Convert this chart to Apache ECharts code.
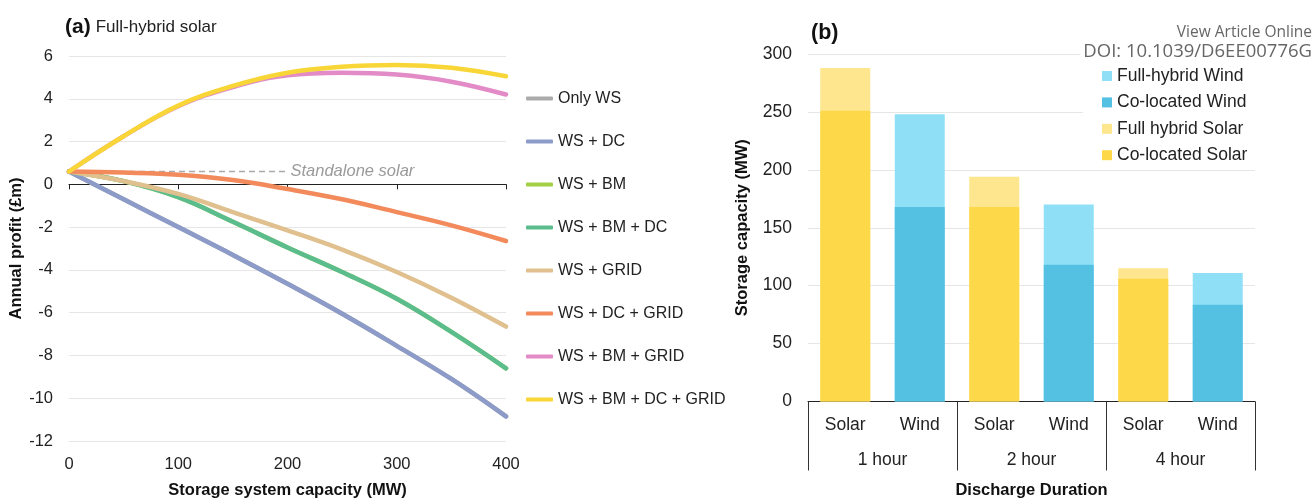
<!DOCTYPE html>
<html>
<head>
<meta charset="utf-8">
<script src="https://cdn.jsdelivr.net/npm/echarts@6/dist/echarts.min.js"></script>
<style>
html,body{margin:0;padding:0;background:#fff;overflow:hidden;}
#chart{width:1315px;height:504px;}
</style>
</head>
<body>
<div id="chart"></div>
<script>
// ---------- Panel (a) data ----------
const capacities = [0, 50, 100, 150, 200, 250, 300, 350, 400];
const onlyWS        = [0.6, -0.7, -2.0, -3.3, -4.65, -6.05, -7.55, -9.1, -10.85];
const wsDC          = [0.6, -0.7, -2.0, -3.3, -4.65, -6.05, -7.55, -9.1, -10.85];
const wsBM          = [0.6, 0.15, -0.6, -1.75, -2.95, -4.1, -5.35, -6.9, -8.6];
const wsBMDC        = [0.6, 0.15, -0.6, -1.75, -2.95, -4.1, -5.35, -6.9, -8.6];
const wsGRID        = [0.6, 0.15, -0.45, -1.3, -2.15, -3.05, -4.1, -5.3, -6.65];
const wsDCGRID      = [0.6, 0.55, 0.45, 0.2, -0.22, -0.7, -1.3, -1.92, -2.65];
const wsBMGRID      = [0.6, 2.25, 3.65, 4.55, 5.1, 5.22, 5.13, 4.8, 4.2];
const wsBMDCGRID    = [0.6, 2.25, 3.68, 4.6, 5.22, 5.5, 5.58, 5.45, 5.05];
const standaloneX   = [0, 200];
const standaloneVal = 0.6;
const yTicksA = [-12, -10, -8, -6, -4, -2, 0, 2, 4, 6];
const xTicksA = [0, 100, 200, 300, 400];

const lineNames  = ['Only WS', 'WS + DC', 'WS + BM', 'WS + BM + DC', 'WS + GRID', 'WS + DC + GRID', 'WS + BM + GRID', 'WS + BM + DC + GRID'];
const lineValues = [onlyWS, wsDC, wsBM, wsBMDC, wsGRID, wsDCGRID, wsBMGRID, wsBMDCGRID];
const lineColors = ['#ababab', '#8c9bc8', '#a3cf45', '#5bbd8d', '#dfc08e', '#f28a5c', '#e28bc6', '#f9d637'];

// ---------- Panel (b) data ----------
const durations = ['1 hour', '2 hour', '4 hour'];
const sources   = ['Solar', 'Wind'];
const fullHybridWind  = [null, 248, null, 170, null, 111];
const coLocatedWind   = [null, 168, null, 118, null, 83.5];
const fullHybridSolar = [288, null, 194, null, 115, null];
const coLocatedSolar  = [251, null, 168, null, 106, null];
const yTicksB = [0, 50, 100, 150, 200, 250, 300];

const FONT = 'Liberation Sans';
const categoriesB = [];
durations.forEach(d => sources.forEach(s => categoriesB.push(d + '|' + s)));

const chart = echarts.init(document.getElementById('chart'), null, {renderer: 'canvas', width: 1315, height: 504});

const lineSeries = lineNames.map((n, i) => ({
  name: n,
  type: 'line',
  xAxisIndex: 0,
  yAxisIndex: 0,
  data: capacities.map((c, j) => [c, lineValues[i][j]]),
  smooth: 0.4,
  showSymbol: false,
  symbol: 'none',
  lineStyle: {width: 4.5, color: lineColors[i], cap: 'round'},
  itemStyle: {color: lineColors[i]},
  z: 3
}));

const standaloneSeries = {
  name: 'Standalone solar',
  type: 'line',
  xAxisIndex: 0,
  yAxisIndex: 0,
  data: standaloneX.map(x => [x, standaloneVal]),
  showSymbol: false,
  symbol: 'none',
  lineStyle: {width: 1.5, color: '#a9a9a9', type: [6, 4]},
  endLabel: {
    show: true,
    formatter: 'Standalone solar',
    distance: 3,
    color: '#9a9a9a',
    fontStyle: 'italic',
    fontSize: 16.5,
    fontFamily: FONT
  },
  z: 2,
  silent: true
};

const barCommon = {
  type: 'bar',
  xAxisIndex: 2,
  yAxisIndex: 1,
  barWidth: 50,
  barGap: '-100%',
  z: 2
};

const option = {
  backgroundColor: '#fff',
  animation: false,
  textStyle: {fontFamily: FONT},
  title: [
    {
      left: 60, top: 12,
      text: '{b|(a)} {n|Full-hybrid solar}',
      textStyle: {
        rich: {
          b: {fontSize: 21, fontWeight: 'bold', color: '#111', fontFamily: FONT},
          n: {fontSize: 17, fontWeight: 'normal', color: '#222', fontFamily: FONT}
        }
      }
    },
    {
      left: 806, top: 17,
      text: '(b)',
      textStyle: {fontSize: 21.5, fontWeight: 'bold', color: '#111', fontFamily: FONT}
    },
    {
      right: 3, top: 24.5, padding: 0,
      text: 'View Article Online',
      textStyle: {fontSize: 15.5, lineHeight: 16, fontWeight: 'normal', color: '#666', fontFamily: 'Open Sans'}
    },
    {
      right: 3, top: 42, padding: [0, 0, 0, 3],
      text: 'DOI: 10.1039/D6EE00776G',
      backgroundColor: '#fff',
      textStyle: {fontSize: 18.5, lineHeight: 19, fontWeight: 'normal', color: '#666', fontFamily: 'Open Sans'}
    }
  ],
  legend: [
    {
      data: lineNames,
      orient: 'vertical',
      left: 521,
      top: 85,
      itemWidth: 27,
      itemHeight: 4,
      itemGap: 26,
      icon: 'roundRect',
      textStyle: {fontSize: 16, color: '#222', lineHeight: 17, fontFamily: FONT},
      selectedMode: false
    },
    {
      data: ['Full-hybrid Wind', 'Co-located Wind', 'Full hybrid Solar', 'Co-located Solar'],
      orient: 'vertical',
      left: 1083,
      top: 61,
      padding: [6, 40, 4, 19],
      backgroundColor: '#fff',
      itemWidth: 10,
      itemHeight: 10,
      itemGap: 8.4,
      icon: 'rect',
      textStyle: {fontSize: 17.5, color: '#222', lineHeight: 18, fontFamily: FONT},
      selectedMode: false,
      z: 10
    }
  ],
  grid: [
    {left: 69, right: 809, top: 56, bottom: 56.3, containLabel: false},
    {left: 808, right: 60, top: 54, bottom: 96, containLabel: false}
  ],
  xAxis: [
    {
      gridIndex: 0, type: 'value', min: 0, max: 400, interval: 100,
      position: 'bottom',
      axisLine: {show: false, onZero: false},
      axisTick: {show: false},
      splitLine: {show: false},
      axisLabel: {fontSize: 16.5, color: '#222', margin: 15, fontFamily: FONT,
        customValues: xTicksA},
      name: 'Storage system capacity (MW)',
      nameLocation: 'middle',
      nameGap: 41,
      nameTextStyle: {fontSize: 16.5, fontWeight: 'bold', color: '#111', fontFamily: FONT}
    },
    {
      gridIndex: 0, type: 'value', min: 0, max: 400, interval: 100,
      position: 'bottom',
      axisLine: {show: true, onZero: true, onZeroAxisIndex: 0, lineStyle: {color: '#222', width: 1}},
      axisTick: {show: true, inside: false, length: 5, lineStyle: {color: '#222'}},
      axisLabel: {show: false},
      splitLine: {show: false}
    },
    {
      gridIndex: 1, type: 'category', data: categoriesB,
      position: 'bottom',
      axisLine: {show: true, lineStyle: {color: '#222', width: 1}},
      axisTick: {show: false},
      axisLabel: {fontSize: 17.5, color: '#222', margin: 15, fontFamily: FONT,
        formatter: v => v.split('|')[1]},
      splitLine: {show: false}
    },
    {
      gridIndex: 1, type: 'category', data: durations,
      position: 'bottom',
      axisLine: {show: false},
      axisTick: {show: true, length: 69, lineStyle: {color: '#333', width: 1}},
      axisLabel: {fontSize: 17.5, color: '#222', margin: 50, fontFamily: FONT},
      splitLine: {show: false},
      name: 'Discharge Duration',
      nameLocation: 'middle',
      nameGap: 80.5,
      nameTextStyle: {fontSize: 16.5, fontWeight: 'bold', color: '#111', fontFamily: FONT}
    }
  ],
  yAxis: [
    {
      gridIndex: 0, type: 'value', min: -12, max: 6, interval: 2,
      axisLine: {show: false},
      axisTick: {show: false},
      axisLabel: {fontSize: 16.5, color: '#222', margin: 16, fontFamily: FONT},
      splitLine: {show: true, lineStyle: {color: '#e6e6e6', width: 1}},
      name: 'Annual profit (£m)',
      nameLocation: 'middle',
      nameGap: 43,
      nameTextStyle: {fontSize: 16.5, fontWeight: 'bold', color: '#111', fontFamily: FONT}
    },
    {
      gridIndex: 1, type: 'value', min: 0, max: 300, interval: 50,
      axisLine: {show: false},
      axisTick: {show: false},
      axisLabel: {fontSize: 17.5, color: '#222', margin: 16, fontFamily: FONT},
      splitLine: {show: true, lineStyle: {color: '#e6e6e6', width: 1}},
      name: 'Storage capacity (MW)',
      nameLocation: 'middle',
      nameGap: 57,
      nameTextStyle: {fontSize: 16.5, fontWeight: 'bold', color: '#111', fontFamily: FONT}
    }
  ],
  series: [
    standaloneSeries,
    ...lineSeries,
    Object.assign({}, barCommon, {name: 'Full-hybrid Wind', data: fullHybridWind, itemStyle: {color: '#8fe0f7'}}),
    Object.assign({}, barCommon, {name: 'Co-located Wind', data: coLocatedWind, itemStyle: {color: '#54c1e2'}}),
    Object.assign({}, barCommon, {name: 'Full hybrid Solar', data: fullHybridSolar, itemStyle: {color: '#fde68e'}}),
    Object.assign({}, barCommon, {name: 'Co-located Solar', data: coLocatedSolar, itemStyle: {color: '#fdd94a'}})
  ]
};

chart.setOption(option);
</script>
</body>
</html>
